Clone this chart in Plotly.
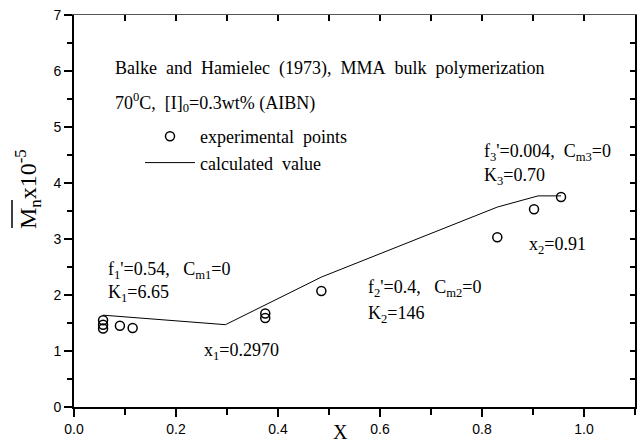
import plotly.graph_objects as go

# experimental points (conversion X, Mn x 1e-5)
exp_x = [0.057, 0.057, 0.057, 0.090, 0.115, 0.375, 0.375, 0.485, 0.830, 0.902, 0.955]
exp_y = [1.40, 1.47, 1.55, 1.45, 1.41, 1.59, 1.67, 2.07, 3.03, 3.53, 3.75]

# calculated curve
calc_x = [0.057, 0.297, 0.485, 0.830, 0.910, 0.955]
calc_y = [1.64, 1.47, 2.32, 3.57, 3.77, 3.77]

x_ticks = [0.0, 0.2, 0.4, 0.6, 0.8, 1.0]
y_ticks = [0, 1, 2, 3, 4, 5, 6, 7]

SERIF = "Liberation Serif, Times New Roman, serif"
SANS = "Liberation Sans, Arial, sans-serif"

fig = go.Figure()
fig.add_trace(go.Scatter(x=exp_x, y=exp_y, mode="markers", name="experimental\u00a0 points",
                         marker=dict(symbol="circle-open", size=9, color="black", line=dict(width=1.5))))
fig.add_trace(go.Scatter(x=calc_x, y=calc_y, mode="lines", name="calculated\u00a0 value",
                         line=dict(color="black", width=1)))

W, H = 642, 444
L, R, T, B = 74, 7, 15, 37
pw, ph = W - L - R, H - T - B

def px2paper(px, py):
    return (px - L) / pw, (H - B - py) / ph

annots = []
def ann(text, x, y, size=18, xanchor="left", ref="data", angle=0):
    annots.append(dict(text=text, x=x, y=y, xref="x" if ref == "data" else "paper",
                       yref="y" if ref == "data" else "paper", showarrow=False,
                       xanchor=xanchor, yanchor="middle", textangle=angle,
                       font=dict(family=SERIF, size=size, color="black")))

sp = "\u00a0 "
ann("Balke" + sp + "and" + sp + "Hamielec" + sp + "(1973)," + sp + "MMA" + sp + "bulk" + sp + "polymerization", 0.076, 6.04)
ann("70<sup>0</sup>C," + sp + "[I]<sub>0</sub>=0.3wt% (AIBN)", 0.076, 5.43)
ann("f<sub>1</sub>'=0.54," + sp + "\u00a0C<sub>m1</sub>=0", 0.0626, 2.43)
ann("K<sub>1</sub>=6.65", 0.0626, 2.02)
ann("x<sub>1</sub>=0.2970", 0.2505, 1.0)
ann("f<sub>2</sub>'=0.4," + sp + "\u00a0C<sub>m2</sub>=0", 0.573, 2.11)
ann("K<sub>2</sub>=146", 0.573, 1.66)
ann("x<sub>2</sub>=0.91", 0.888, 2.89)
ann("f<sub>3</sub>'=0.004," + sp + "C<sub>m3</sub>=0", 0.80, 4.54)
ann("K<sub>3</sub>=0.70", 0.80, 4.11)

# axis titles
xt, yt = px2paper(340, 432)
ann("X", xt, yt, size=20, xanchor="center", ref="paper")
xt, yt = px2paper(28, 189)
ann("M<sub>n</sub>x10<sup>-5</sup>", xt, yt, size=24, xanchor="center", ref="paper", angle=-90)

ox, oy0 = px2paper(12, 200)
_, oy1 = px2paper(12, 228)
shapes = [dict(type="line", xref="paper", yref="paper", x0=ox, x1=ox, y0=oy0, y1=oy1,
               line=dict(color="black", width=1.5))]

lx, ly = px2paper(140, 118)

fig.update_layout(
    width=W, height=H,
    margin=dict(l=L, r=R, t=T, b=B),
    plot_bgcolor="white", paper_bgcolor="white",
    showlegend=True,
    legend=dict(x=lx, y=ly, xanchor="left", yanchor="top", bgcolor="rgba(0,0,0,0)",
                itemwidth=50, tracegroupgap=0,
                font=dict(family=SERIF, size=18, color="black")),
    annotations=annots,
    shapes=shapes,
    xaxis=dict(range=[0, 1.1], tickvals=x_ticks, ticktext=[f"{v:.1f}" for v in x_ticks],
               ticks="outside", ticklen=8, tickwidth=1.5, tickcolor="black",
               minor=dict(dtick=0.1, tick0=0, ticks="outside", ticklen=6, tickwidth=1.5, tickcolor="black"),
               showline=True, linewidth=2, linecolor="black", showgrid=False, zeroline=False,
               tickfont=dict(family=SANS, size=14, color="black")),
    yaxis=dict(range=[0, 7], tickvals=y_ticks, ticks="outside", ticklen=8, tickwidth=1.5, tickcolor="black",
               minor=dict(dtick=0.5, tick0=0, ticks="outside", ticklen=5, tickwidth=1.5, tickcolor="black"),
               showline=True, linewidth=2, linecolor="black", showgrid=False, zeroline=False,
               tickfont=dict(family=SANS, size=14, color="black")),
    xaxis2=dict(range=[0, 1.1], overlaying="x", side="top", dtick=0.1, tick0=0, ticks="inside",
                ticklen=6, tickwidth=1.5, tickcolor="black", showticklabels=False,
                showline=True, linewidth=1, linecolor="#555555", showgrid=False, zeroline=False),
    yaxis2=dict(range=[0, 7], overlaying="y", side="right", dtick=0.5, tick0=0, ticks="inside",
                ticklen=5, tickwidth=1.5, tickcolor="black", showticklabels=False,
                showline=True, linewidth=2, linecolor="black", showgrid=False, zeroline=False),
)

fig.add_trace(go.Scatter(x=[None], y=[None], xaxis="x2", yaxis="y2", showlegend=False, hoverinfo="skip"))

fig.write_html("out.html")
